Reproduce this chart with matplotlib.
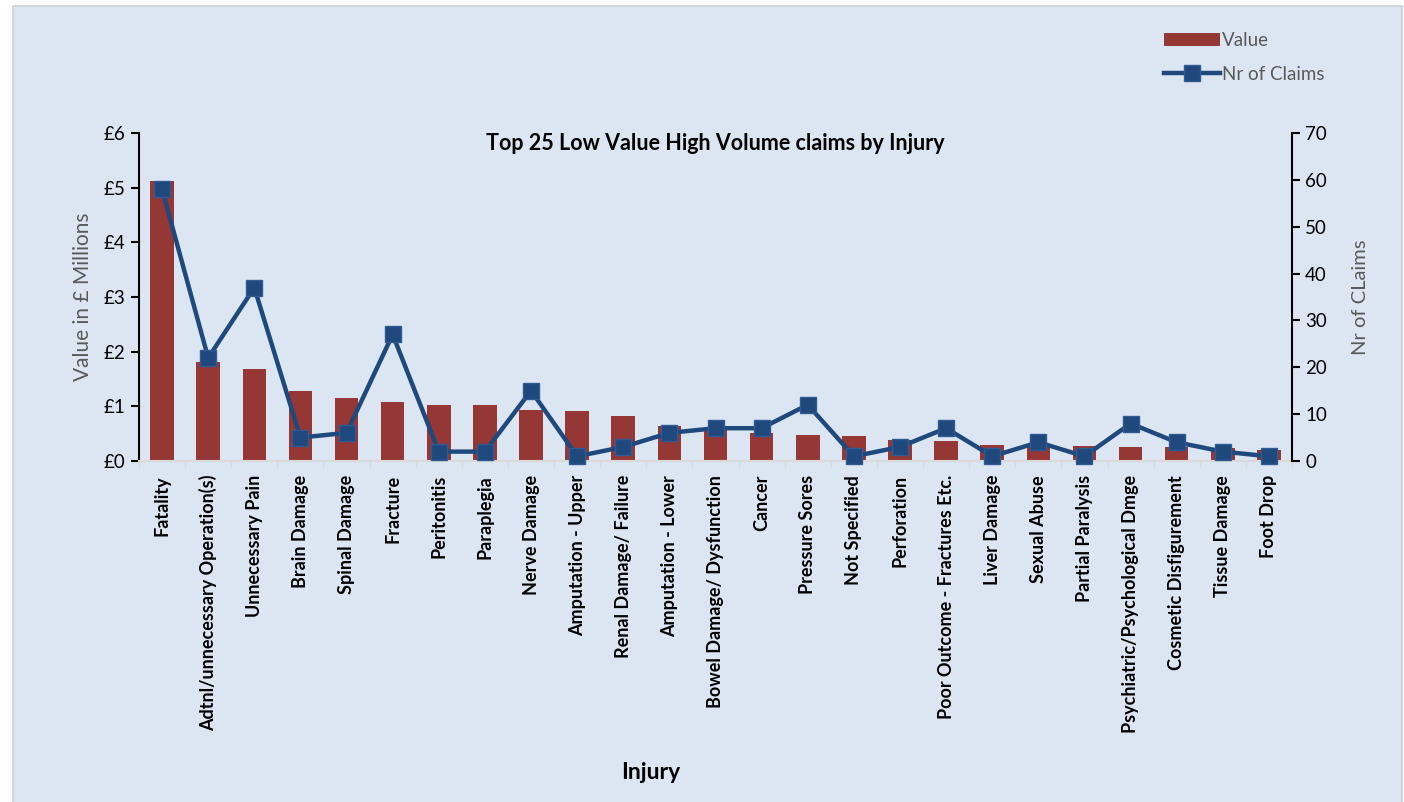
import matplotlib
matplotlib.use("Agg")
import numpy as np
import matplotlib.pyplot as plt
from matplotlib.patches import Rectangle

plt.rcParams['font.family'] = ['Lato', 'DejaVu Sans']

# --- DATA ---
injuries = [
    "Fatality", "Adtnl/unnecessary Operation(s)", "Unnecessary Pain", "Brain Damage",
    "Spinal Damage", "Fracture", "Peritonitis", "Paraplegia", "Nerve Damage",
    "Amputation - Upper", "Renal Damage/ Failure", "Amputation - Lower",
    "Bowel Damage/ Dysfunction", "Cancer", "Pressure Sores", "Not Specified",
    "Perforation", "Poor Outcome - Fractures Etc.", "Liver Damage", "Sexual Abuse",
    "Partial Paralysis", "Psychiatric/Psychological Dmge", "Cosmetic Disfigurement",
    "Tissue Damage", "Foot Drop",
]
value_millions = [5.12, 1.81, 1.68, 1.28, 1.15, 1.08, 1.02, 1.02, 0.93,
                  0.92, 0.82, 0.64, 0.60, 0.51, 0.48, 0.45,
                  0.38, 0.36, 0.30, 0.30, 0.28, 0.26, 0.25, 0.24, 0.21]
nr_claims = [58, 22, 37, 5, 6, 27, 2, 2, 15,
             1, 3, 6, 7, 7, 12, 1,
             3, 7, 1, 4, 1, 8, 4, 2, 1]

BG = '#DCE6F2'
BAR = '#953735'
LINE = '#1F497D'
GREY = '#595959'

fig = plt.figure(figsize=(14.04, 8.02), dpi=100, facecolor='white')
# chart area panel with light border
fig.patches.append(Rectangle((13 / 1404, -0.01), 1 - 15 / 1404, 1.01 - 6 / 802,
                             transform=fig.transFigure, facecolor=BG,
                             edgecolor='#D0D0D0', linewidth=1.2, zorder=-10))

ax = fig.add_axes([139 / 1404, 1 - 461 / 802, (1292 - 139) / 1404, (461 - 133) / 802])
ax.set_facecolor('none')
x = np.arange(len(injuries))

bars = ax.bar(x, value_millions, width=0.51, color=BAR, label='Value', zorder=2)
ax.set_ylim(0, 6)
ax.set_xlim(-0.5, len(injuries) - 0.5)
ax.set_yticks(range(0, 7))
ax.set_yticklabels([f'£{v}' for v in range(0, 7)], fontsize=13.5)
ax.set_ylabel('Value in £ Millions', color=GREY, fontsize=15)
ax.yaxis.set_label_coords((93 - 139) / 1153, 0.5)

ax.set_xticks(x)
ax.set_xticklabels(injuries, rotation=90, fontsize=13, fontweight='bold')
ax.tick_params(axis='x', length=0, pad=10)
ax.set_xticks(np.arange(-0.5, len(injuries)), minor=True)
ax.tick_params(axis='x', which='minor', length=5, color='#D9D9D9', width=1)
ax.set_xlabel('Injury', fontsize=16.5, fontweight='bold')
ax.xaxis.set_label_coords((651 - 139) / 1153, -(762 - 461) / 328)

for s in ['top', 'right']:
    ax.spines[s].set_visible(False)
ax.spines['bottom'].set_color('#D9D9D9')
ax.spines['bottom'].set_linewidth(1.5)
ax.spines['left'].set_linewidth(1.5)
ax.tick_params(axis='y', length=6, width=1.5)

ax2 = ax.twinx()
line, = ax2.plot(x, nr_claims, color=LINE, linewidth=3.2, marker='s',
                 markersize=12, markerfacecolor=LINE, markeredgecolor='#2F5A92',
                 label='Nr of Claims', zorder=3, clip_on=False)
ax2.set_ylim(0, 70)
ax2.set_yticks(range(0, 71, 10))
ax2.tick_params(axis='y', labelsize=13.5, length=6, width=1.5)
ax2.set_ylabel('Nr of CLaims', color=GREY, fontsize=14.5, labelpad=18)
for s in ['top', 'left', 'bottom']:
    ax2.spines[s].set_visible(False)
ax2.spines['right'].set_linewidth(1.5)

ax.text(0.5, (461 - 143) / 328, 'Top 25 Low Value High Volume claims by Injury',
        transform=ax.transAxes, ha='center', va='center', fontsize=15.5, fontweight='bold')

leg = fig.legend(handles=[bars, line], labels=['Value', 'Nr of Claims'],
                 loc='upper left', bbox_to_anchor=(1147 / 1404, 1 - 15 / 802),
                 frameon=False, fontsize=13.5, labelcolor=GREY, handlelength=3,
                 handletextpad=0.1, labelspacing=0.9)

fig.savefig('out.png', dpi=100, facecolor=fig.get_facecolor())
